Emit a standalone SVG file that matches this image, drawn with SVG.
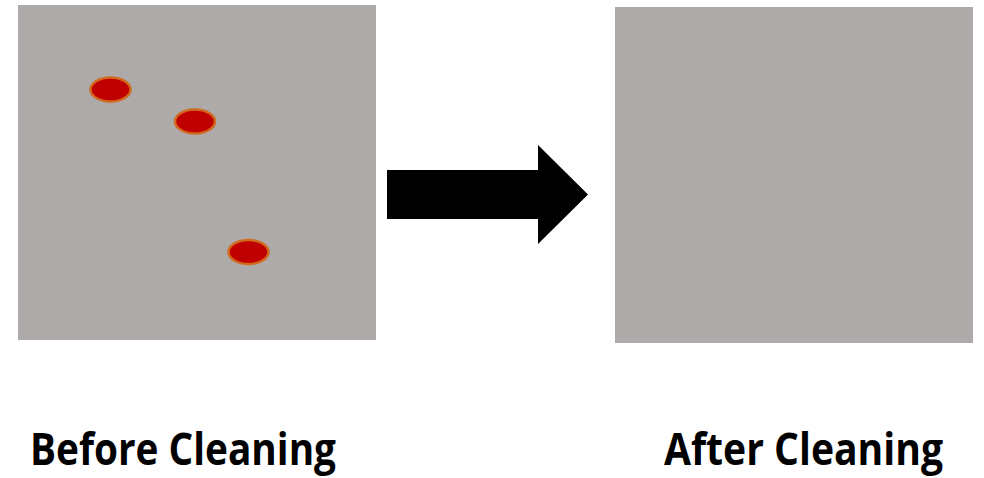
<svg xmlns="http://www.w3.org/2000/svg" width="984" height="478" viewBox="0 0 984 478">
<style>
.panel{fill:#AEAAA9}
.spot{fill:#C00000;stroke:#D2691E;stroke-width:2.5}
.label{font-family:"Open Sans","Liberation Sans",sans-serif;font-weight:700;font-size:44px;fill:#000}
</style>
<rect width="984" height="478" fill="#FFFFFF"/>
<g id="before">
<rect class="panel" x="18" y="5" width="358" height="335"/>
<ellipse class="spot" cx="110.5" cy="89.5" rx="20" ry="12"/>
<ellipse class="spot" cx="195" cy="121.5" rx="20" ry="12"/>
<ellipse class="spot" cx="248.5" cy="252" rx="20" ry="12"/>
</g>
<g id="after">
<rect class="panel" x="615" y="7" width="358" height="336"/>
</g>
<g id="connectors">
<polygon points="387,170 538,170 538,145 588,194.5 538,244 538,219 387,219" fill="#000"/>
</g>
<g id="labels">
<text class="label" x="30" y="465" textLength="306" lengthAdjust="spacingAndGlyphs">Before Cleaning</text>
<text class="label" x="664" y="465" textLength="279" lengthAdjust="spacingAndGlyphs">After Cleaning</text>
</g>
</svg>
